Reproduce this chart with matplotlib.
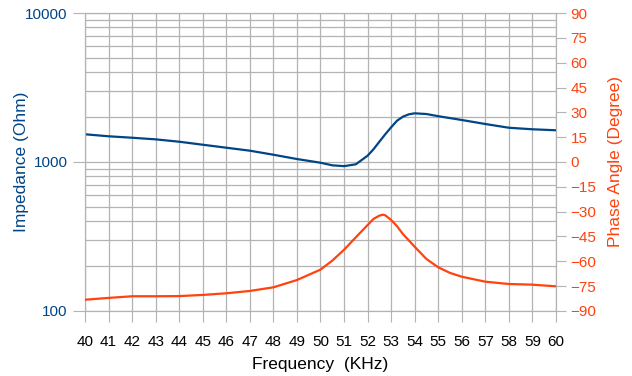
import matplotlib.pyplot as plt
from matplotlib.ticker import LogLocator, NullFormatter, FixedLocator
import numpy as np

plt.rcParams['font.family'] = ['Liberation Sans', 'DejaVu Sans']

# impedance (Ohm) vs frequency (kHz)
freq_z = [40, 41, 42, 43, 44, 45, 46, 47, 48, 49, 50, 50.5, 51, 51.5, 52,
          52.25, 52.5, 52.75, 53, 53.25, 53.5, 53.75, 54, 54.5, 55, 56, 57,
          58, 59, 60]
impedance = [1535, 1488, 1455, 1419, 1368, 1306, 1247, 1191, 1119, 1047, 989,
             950, 938, 965, 1102, 1217, 1368, 1535, 1710, 1893, 2014, 2089,
             2122, 2099, 2030, 1914, 1799, 1698, 1658, 1633]

# phase angle (degree) vs frequency (kHz)
freq_p = [40, 41, 42, 43, 44, 45, 46, 47, 48, 49, 50, 50.5, 51, 51.5, 52,
          52.25, 52.5, 52.65, 52.75, 53, 53.25, 53.5, 54, 54.5, 55, 55.5, 56,
          57, 58, 59, 60]
phase = [-83.2, -82.1, -81.1, -81.1, -81.0, -80.3, -79.3, -77.9, -75.7, -71.3,
         -65.0, -59.6, -53.0, -45.5, -38.1, -34.4, -32.4, -31.8, -32.2, -35.0,
         -38.8, -43.5, -51.2, -58.6, -63.6, -67.0, -69.3, -72.3, -73.7, -74.1,
         -75.1]

x_ticks = list(range(40, 61))
phase_ticks = list(range(-90, 91, 15))

blue = '#004586'
orange = '#ff420e'
grid = '#b3b3b3'

fig = plt.figure(figsize=(6.32, 3.76), dpi=100)
ax = fig.add_axes([0.1345, 0.1729, 0.7452, 0.7925])

ax.plot(freq_z, impedance, color=blue, lw=1.6, zorder=3)
ax.set_yscale('log')
ax.set_ylim(100, 10000)
ax.set_xlim(40, 60)
ax.set_xticks(x_ticks)
ax.yaxis.set_minor_locator(LogLocator(base=10, subs=np.arange(2, 10)))
ax.yaxis.set_minor_formatter(NullFormatter())
ax.set_yticks([100, 1000, 10000])
ax.set_yticklabels(['100', '1000', '10000'])
ax.grid(True, which='both', color=grid, lw=0.9)
ax.set_axisbelow(True)
ax.tick_params(axis='y', which='major', colors=grid, labelcolor=blue,
               length=9, labelsize=11)
ax.tick_params(axis='y', which='minor', length=0)
ax.tick_params(axis='x', colors=grid, labelcolor='black', length=8, pad=9,
               labelsize=11)
for s in ax.spines.values():
    s.set_color(grid)
ax.set_ylabel('Impedance (Ohm)', color=blue, fontsize=12.5, labelpad=-3)
ax.set_xlabel('Frequency  (KHz)', color='black', fontsize=12.5, labelpad=6)

ax2 = ax.twinx()
ax2.plot(freq_p, phase, color=orange, lw=1.6, zorder=3)
ax2.set_ylim(-90, 90)
ax2.yaxis.set_major_locator(FixedLocator(phase_ticks))
ax2.tick_params(axis='y', colors=grid, labelcolor=orange, length=7,
                labelsize=11)
for s in ax2.spines.values():
    s.set_color(grid)
ax2.set_ylabel('Phase Angle (Degree)', color=orange, fontsize=12.5,
               labelpad=8)

fig.savefig('out.png', dpi=100)
